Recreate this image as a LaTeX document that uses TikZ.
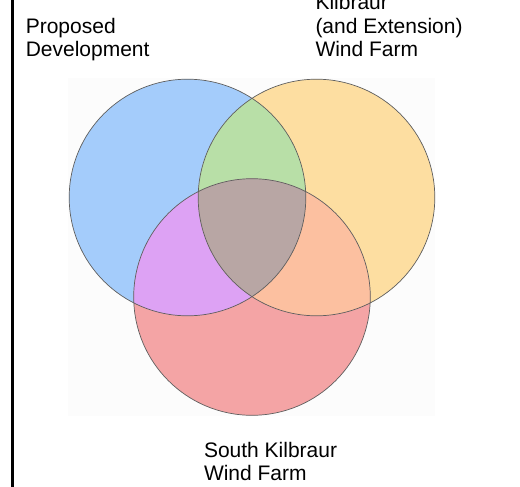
\documentclass[tikz,border=0pt]{standalone}
\usepackage{fontspec}
\setmainfont{Liberation Sans}
\definecolor{cBlue}{RGB}{164,204,251}
\definecolor{cOrange}{RGB}{253,222,161}
\definecolor{cRed}{RGB}{244,164,165}
\definecolor{cGreen}{RGB}{184,223,167}
\definecolor{cPurple}{RGB}{221,162,244}
\definecolor{cSalmon}{RGB}{252,192,160}
\definecolor{cCenter}{RGB}{184,166,164}
\definecolor{cEdge}{RGB}{95,95,95}
\definecolor{cPanel}{RGB}{252,252,252}
\tikzset{
  lbl/.style={anchor=base west, inner sep=0pt, outer sep=0pt, font=\fontsize{21}{23.3}\selectfont, text=black},
  ring/.style={draw=cEdge, line width=0.7pt}
}
\begin{document}
\begin{tikzpicture}[x=1pt,y=-1pt]
\useasboundingbox (0,0) rectangle (520,487);
\fill[white] (0,0) rectangle (520,487);
\fill[cPanel] (68,78) rectangle (435,416);
% centres
\coordinate (cb) at (187.5,197.5);
\coordinate (co) at (316.5,197.5);
\coordinate (cr) at (252,297);
\def\R{118.3}
% base fills
\fill[cBlue] (cb) circle[radius=\R];
\fill[cOrange] (co) circle[radius=\R];
\fill[cRed] (cr) circle[radius=\R];
% pairwise overlaps
\begin{scope}
  \clip (cb) circle[radius=\R];
  \fill[cGreen] (co) circle[radius=\R];
  \fill[cPurple] (cr) circle[radius=\R];
\end{scope}
\begin{scope}
  \clip (co) circle[radius=\R];
  \fill[cSalmon] (cr) circle[radius=\R];
\end{scope}
\begin{scope}
  \clip (cb) circle[radius=\R];
  \clip (co) circle[radius=\R];
  \fill[cCenter] (cr) circle[radius=\R];
\end{scope}
% outlines
\draw[ring] (cb) circle[radius=\R];
\draw[ring] (co) circle[radius=\R];
\draw[ring] (cr) circle[radius=\R];
% left rule
\draw[black, line width=3pt] (12,0) -- (12,487);
% labels
\node[lbl] (pd1) at (25.8,33.3) {Proposed};
\node[lbl] (pd2) at (25.8,56.5) {Development};
\node[lbl] (kb1) at (315.5,9.8) {Kilbraur};
\node[lbl] (kb2) at (315.5,33.2) {(and Extension)};
\node[lbl] (kb3) at (315.5,56.6) {Wind Farm};
\node[lbl] (sk1) at (204,457.3) {South Kilbraur};
\node[lbl] (sk2) at (204,480.4) {Wind Farm};
\end{tikzpicture}
\end{document}
